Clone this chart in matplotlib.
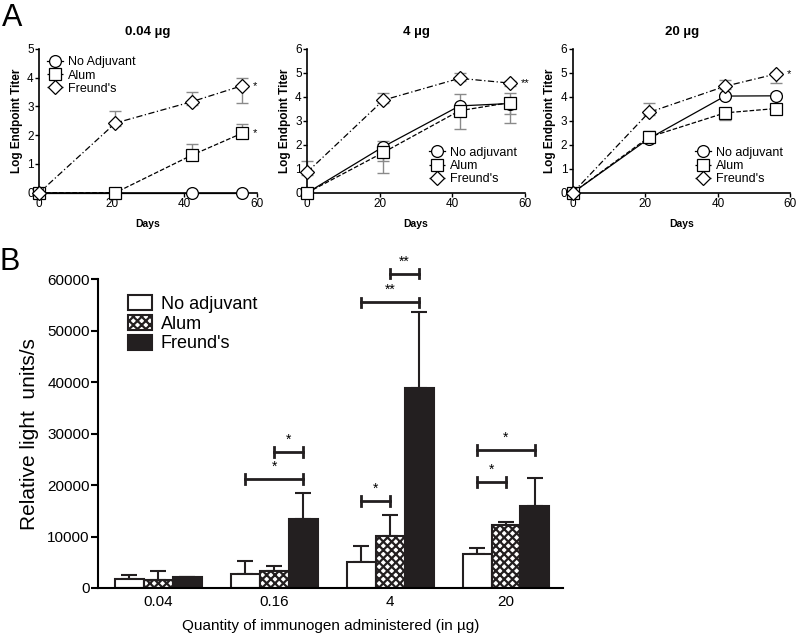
import numpy as np
import matplotlib.pyplot as plt

plt.rcParams['font.family'] = ['Liberation Sans', 'DejaVu Sans']
plt.rcParams['hatch.linewidth'] = 1.6

# ---- panel A data ----
days = [0, 21, 42, 56]
titles = ['0.04 µg', '4 µg', '20 µg']
ymax = [5, 6, 6]

noadj = [[0, 0, 0, 0], [0, 1.92, 3.62, 3.72], [0, 2.26, 4.03, 4.04]]
alum = [[0, 0, 1.3, 2.07], [0, 1.68, 3.42, 3.76], [0, 2.32, 3.33, 3.51]]
freund = [[0, 2.42, 3.16, 3.72], [0.86, 3.86, 4.77, 4.57], [0, 3.35, 4.44, 4.95]]

noadj_hi = [[0, 0, 0, 0], [0, 0.25, 0.5, 0.45], [0, 0.1, 0.1, 0.1]]
noadj_lo = [[0, 0, 0, 0], [0, 1.09, 0.1, 0.45], [0, 0.1, 0.1, 0.1]]
alum_hi = [[0, 0, 0.38, 0.31], [0, 0.35, 0.1, 0.1], [0, 0.26, 0.1, 0.1]]
alum_lo = [[0, 0, 0.1, 0.1], [0, 0.35, 0.75, 0.84], [0, 0.1, 0.29, 0.1]]
freund_hi = [[0, 0.43, 0.34, 0.25], [0.45, 0.31, 0.23, 0.1], [0, 0.4, 0.27, 0.1]]
freund_lo = [[0, 0.1, 0.1, 0.59], [0.1, 0.1, 0.1, 0.1], [0, 0.1, 0.1, 0.37]]

stars_a = [[('*', 3.72), ('*', 2.07)], [('**', 4.57)], [('*', 4.95)]]
legend_labels = [['No Adjuvant', 'Alum', "Freund's"],
                 ['No adjuvant', 'Alum', "Freund's"],
                 ['No adjuvant', 'Alum', "Freund's"]]
legend_loc = ['upper left', 'lower right', 'lower right']

# ---- panel B data ----
doses = ['0.04', '0.16', '4', '20']
groups = ['No adjuvant', 'Alum', "Freund's"]
rlu_noadj = [1750, 2800, 5100, 6600]
rlu_alum = [1600, 3300, 10100, 12200]
rlu_freund = [2100, 13400, 38800, 15900]
err_noadj = [750, 2500, 3100, 1200]
err_alum = [1700, 1000, 4100, 600]
err_freund = [0, 5000, 14800, 5500]
# (dose index, bar i, bar j, height, label)
brackets = [(1, 0, 2, 21200, '*'), (1, 1, 2, 26400, '*'),
            (2, 0, 1, 16900, '*'), (2, 0, 2, 55500, '**'), (2, 1, 2, 61100, '**'),
            (3, 0, 1, 20600, '*'), (3, 0, 2, 26800, '*')]

fig = plt.figure(figsize=(8, 6.34), dpi=100)

lefts = [0.049, 0.384, 0.716]
ecol = '#8a8a8a'
for k in range(3):
    ax = fig.add_axes([lefts[k], 0.696, 0.272, 0.227])
    series = [(noadj[k], noadj_lo[k], noadj_hi[k], 'o', '-'),
              (alum[k], alum_lo[k], alum_hi[k], 's', '--'),
              (freund[k], freund_lo[k], freund_hi[k], 'D', (0, (5, 2, 1, 2)))]
    handles = []
    for vals, lo, hi, mk, ls in series:
        ax.errorbar(days, vals, yerr=[lo, hi], fmt='none', ecolor=ecol, elinewidth=1,
                    capsize=4.5, capthick=1, clip_on=False, zorder=2)
        h, = ax.plot(days, vals, color='black', lw=0.9, ls=ls, marker=mk,
                     ms=8.5 if mk != 'D' else 7.5, mfc='white', mec='black', mew=0.9,
                     clip_on=False, zorder=3)
        handles.append(h)
    for s, yv in stars_a[k]:
        ax.text(59, yv, s, fontsize=8, va='center', ha='left')
    ax.set_xlim(0, 60)
    ax.set_ylim(0, ymax[k])
    ax.set_xticks([0, 20, 40, 60])
    ax.set_yticks(range(ymax[k] + 1))
    for sp in ['top', 'right']:
        ax.spines[sp].set_visible(False)
    ax.spines['left'].set_linewidth(1.2)
    ax.spines['bottom'].set_linewidth(1.2)
    ax.tick_params(labelsize=8.5, length=3, width=1, pad=1)
    ax.set_title(titles[k], fontsize=9.5, fontweight='bold', pad=10)
    ax.set_xlabel('Days', fontsize=7.5, fontweight='bold', labelpad=6)
    ax.set_ylabel('Log Endpoint Titer', fontsize=8.5, fontweight='bold', labelpad=3)
    ax.legend(handles, legend_labels[k], loc=legend_loc[k], frameon=False, fontsize=9,
              handlelength=1.3, handletextpad=0.4, labelspacing=0.1, borderaxespad=0.2)

fig.text(0.003, 0.995, 'A', fontsize=22, va='top', ha='left')
fig.text(0.0, 0.61, 'B', fontsize=22, va='top', ha='left')

# ---- panel B ----
axb = fig.add_axes([0.1225, 0.0726, 0.581, 0.487])
x = np.arange(len(doses))
w = 0.25
vals_b = [rlu_noadj, rlu_alum, rlu_freund]
errs_b = [err_noadj, err_alum, err_freund]
faces = ['white', 'white', '#231f20']
hatches = [None, 'xxxx', None]
for i in range(3):
    pos = x + (i - 1) * w
    axb.bar(pos, vals_b[i], w, color=faces[i], edgecolor='#231f20', linewidth=1.5,
            hatch=hatches[i], label=groups[i], zorder=2)
    axb.errorbar(pos, vals_b[i], yerr=[np.zeros(4), errs_b[i]], fmt='none',
                 ecolor='#231f20', elinewidth=1.5, capsize=6, capthick=1.5, zorder=1)

for d, i, j, hgt, lab in brackets:
    x1 = d + (i - 1) * w
    x2 = d + (j - 1) * w
    axb.plot([x1, x2], [hgt, hgt], color='#231f20', lw=2, clip_on=False)
    for xx in (x1, x2):
        axb.plot([xx, xx], [hgt - 900, hgt + 900], color='#231f20', lw=2, clip_on=False)
    axb.text((x1 + x2) / 2, hgt + 1000, lab, ha='center', va='bottom', fontsize=10)

axb.set_xlim(-0.52, 3.49)
axb.set_ylim(0, 60000)
axb.set_yticks(range(0, 60001, 10000))
axb.set_xticks(x)
axb.set_xticklabels(doses)
for sp in ['top', 'right']:
    axb.spines[sp].set_visible(False)
axb.spines['left'].set_linewidth(1.5)
axb.spines['bottom'].set_linewidth(1.5)
axb.tick_params(axis='y', labelsize=11, length=5, width=1.5, pad=1)
axb.tick_params(axis='x', labelsize=11, length=0, pad=5)
axb.set_ylabel('Relative light  units/s', fontsize=15, labelpad=6)
axb.set_xlabel('Quantity of immunogen administered (in µg)', fontsize=11, labelpad=7)
axb.legend(loc='upper left', bbox_to_anchor=(0.03, 1.0), frameon=False, fontsize=13,
           handlelength=1.3, handleheight=0.9, handletextpad=0.5, labelspacing=0.1)

fig.savefig('out.png', dpi=100)
